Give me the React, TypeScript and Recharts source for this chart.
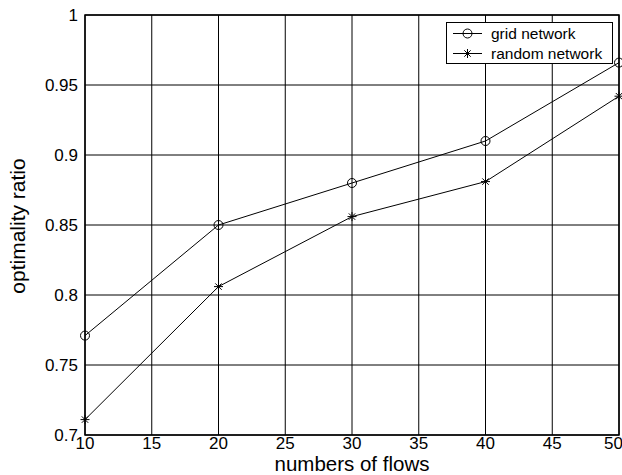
import React from 'react';
import {
  LineChart,
  Line,
  XAxis,
  YAxis,
  CartesianGrid,
  ReferenceArea,
  Legend,
} from 'recharts';

const flows = [10, 20, 30, 40, 50];
const gridNetwork = [0.771, 0.85, 0.88, 0.91, 0.966];
const randomNetwork = [0.711, 0.806, 0.856, 0.881, 0.942];

const xTicks = [10, 15, 20, 25, 30, 35, 40, 45, 50];
const yTicks = [0.7, 0.75, 0.8, 0.85, 0.9, 0.95, 1];

const seriesNames = ['grid network', 'random network'];

const chartData = flows.map((f, i) => ({
  flows: f,
  grid: gridNetwork[i],
  random: randomNetwork[i],
}));

const FONT = '"Liberation Sans", Arial, Helvetica, sans-serif';

function CircleMark({ cx, cy }: { cx: number; cy: number }) {
  return <circle cx={cx} cy={cy} r={4.5} fill="none" stroke="#000" strokeWidth={1} />;
}

function StarMark({ cx, cy }: { cx: number; cy: number }) {
  const s = 4.5;
  const d = 3.2;
  return (
    <g stroke="#000" strokeWidth={1}>
      <line x1={cx - s} y1={cy} x2={cx + s} y2={cy} />
      <line x1={cx} y1={cy - s} x2={cx} y2={cy + s} />
      <line x1={cx - d} y1={cy - d} x2={cx + d} y2={cy + d} />
      <line x1={cx - d} y1={cy + d} x2={cx + d} y2={cy - d} />
    </g>
  );
}

const renderCircle = (props: any) => <CircleMark key={`c-${props.index}`} cx={props.cx} cy={props.cy} />;
const renderStar = (props: any) => <StarMark key={`s-${props.index}`} cx={props.cx} cy={props.cy} />;

function LegendBox() {
  const marks = [CircleMark, StarMark];
  return (
    <div
      style={{
        boxSizing: 'border-box',
        width: 167,
        height: 42,
        border: '1.5px solid #000',
        background: '#fff',
        paddingTop: 1,
        fontFamily: FONT,
        fontSize: 15.5,
        color: '#000',
      }}
    >
      {seriesNames.map((name, i) => {
        const Mark = marks[i];
        return (
          <div key={name} style={{ display: 'flex', alignItems: 'center', height: 19.4 }}>
            <svg width={44} height={19} style={{ display: 'block' }}>
              <line x1={6} y1={9.5} x2={35} y2={9.5} stroke="#000" strokeWidth={1} />
              <Mark cx={20.5} cy={9.5} />
            </svg>
            <span style={{ lineHeight: '19px' }}>{name}</span>
          </div>
        );
      })}
    </div>
  );
}

export default function App() {
  return (
    <div style={{ position: 'absolute', left: 0, top: 0, width: 622, height: 475, background: '#fff' }}>
      <LineChart
        width={622}
        height={475}
        data={chartData}
        margin={{ top: 15, right: 3, bottom: 0, left: 0 }}
        style={{ fontFamily: FONT }}
      >
        <CartesianGrid stroke="#000" strokeWidth={1} />
        <XAxis
          dataKey="flows"
          type="number"
          domain={[10, 50]}
          ticks={xTicks}
          height={40}
          axisLine={false}
          tickLine={false}
          tickSize={0}
          tickMargin={1.5}
          tick={{ fill: '#000', fontSize: 17 }}
          label={() => (
            <text x={352} y={471} textAnchor="middle" fontSize={20.5} fill="#000" fontFamily={FONT}>
              numbers of flows
            </text>
          )}
        />
        <YAxis
          type="number"
          domain={[0.7, 1]}
          ticks={yTicks}
          width={85}
          axisLine={false}
          tickLine={false}
          tickSize={0}
          tickMargin={7}
          tick={{ fill: '#000', fontSize: 17 }}
          label={() => (
            <text
              x={0}
              y={0}
              transform="translate(25,226) rotate(-90)"
              textAnchor="middle"
              fontSize={21}
              fill="#000"
              fontFamily={FONT}
            >
              optimality ratio
            </text>
          )}
        />
        <ReferenceArea
          x1={10}
          x2={50}
          y1={0.7}
          y2={1}
          fill="none"
          fillOpacity={0}
          stroke="#000"
          strokeWidth={1.5}
          ifOverflow="visible"
        />
        <Legend
          layout="horizontal"
          verticalAlign="middle"
          align="center"
          wrapperStyle={{ top: 22, left: 446, width: 167 }}
          content={() => <LegendBox />}
        />
        <Line
          dataKey="grid"
          name={seriesNames[0]}
          stroke="#000"
          strokeWidth={1}
          dot={renderCircle}
          activeDot={false}
          isAnimationActive={false}
        />
        <Line
          dataKey="random"
          name={seriesNames[1]}
          stroke="#000"
          strokeWidth={1}
          dot={renderStar}
          activeDot={false}
          isAnimationActive={false}
        />
      </LineChart>
    </div>
  );
}
